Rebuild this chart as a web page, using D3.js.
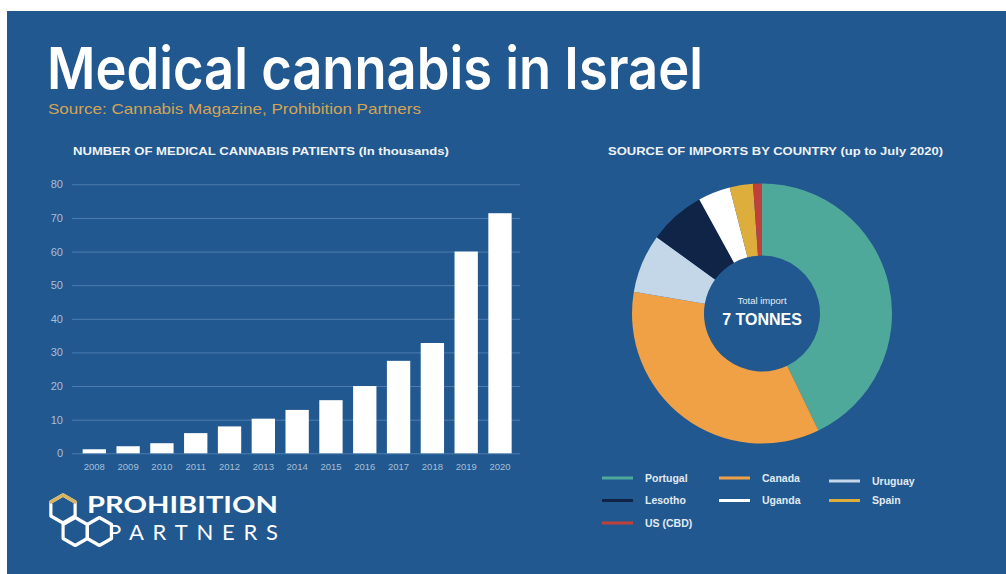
<!DOCTYPE html>
<html>
<head>
<meta charset="utf-8">
<script src="https://cdn.jsdelivr.net/npm/d3@7"></script>
<style>
  html, body { margin: 0; padding: 0; background: #ffffff; }
  svg { display: block; }
</style>
</head>
<body>
<svg id="chart" width="1006" height="574"></svg>
<script>
// ---------- DATA ----------
const years = ["2008","2009","2010","2011","2012","2013","2014","2015","2016","2017","2018","2019","2020"];
const patients = [1.2, 2.1, 3.0, 6.0, 8.0, 10.3, 12.9, 15.8, 20.0, 27.5, 32.8, 60.0, 71.4];
const yTicks = [0, 10, 20, 30, 40, 50, 60, 70, 80];

const countries = ["Portugal", "Canada", "Uruguay", "Lesotho", "Uganda", "Spain", "US (CBD)"];
const importShares = [42.8, 34.8, 7.3, 7.0, 4.0, 2.9, 1.1];
const countryColors = ["#4fa99b", "#f0a045", "#c3d7e8", "#0f2446", "#ffffff", "#deae3c", "#c0413c"];

const titleText = "Medical cannabis in Israel";
const sourceText = "Source: Cannabis Magazine, Prohibition Partners";
const barTitle = "NUMBER OF MEDICAL CANNABIS PATIENTS (In thousands)";
const pieTitle = "SOURCE OF IMPORTS BY COUNTRY (up to July 2020)";
const centerLabel = "Total import";
const centerValue = "7 TONNES";

// ---------- SETUP ----------
const svg = d3.select("#chart");
const BG = "#20588f";
const FONT = "'Liberation Sans', Arial, sans-serif";

svg.append("rect").attr("x", 7).attr("y", 11).attr("width", 999).attr("height", 563).attr("fill", BG);

// Title
svg.append("text")
  .attr("x", 47).attr("y", 89)
  .attr("font-family", "Inter, 'Liberation Sans', sans-serif")
  .attr("font-weight", 600)
  .attr("font-size", 58)
  .attr("fill", "#ffffff")
  .attr("textLength", 656)
  .attr("lengthAdjust", "spacingAndGlyphs")
  .text(titleText);

svg.append("text")
  .attr("x", 48).attr("y", 114)
  .attr("font-family", FONT)
  .attr("font-size", 14.5)
  .attr("fill", "#d3a457")
  .attr("textLength", 373)
  .attr("lengthAdjust", "spacingAndGlyphs")
  .text(sourceText);

// Section titles
svg.append("text")
  .attr("x", 73).attr("y", 154.5)
  .attr("font-family", FONT).attr("font-weight", "bold").attr("font-size", 10)
  .attr("fill", "#eef2f7")
  .attr("textLength", 376).attr("lengthAdjust", "spacingAndGlyphs")
  .text(barTitle);

svg.append("text")
  .attr("x", 608).attr("y", 154.5)
  .attr("font-family", FONT).attr("font-weight", "bold").attr("font-size", 10)
  .attr("fill", "#eef2f7")
  .attr("textLength", 335).attr("lengthAdjust", "spacingAndGlyphs")
  .text(pieTitle);

// ---------- BAR CHART ----------
const y = d3.scaleLinear().domain([0, 80]).range([453.3, 184.3]);
const x = d3.scaleBand().domain(years).range([77.4, 516.9]).paddingInner(0.31).paddingOuter(0.155);

const yAxis = svg.append("g")
  .attr("transform", "translate(520,0)")
  .call(d3.axisLeft(y).tickValues(yTicks).tickSize(448).tickPadding(9).tickFormat(d3.format("d")));
yAxis.select(".domain").remove();
yAxis.selectAll(".tick line").attr("stroke", "#4f7eb0").attr("stroke-width", 1);
yAxis.selectAll(".tick text")
  .attr("font-family", FONT).attr("font-size", 11).attr("fill", "#a9bfd8");

svg.append("g").selectAll("rect")
  .data(patients)
  .join("rect")
  .attr("x", (d, i) => x(years[i]))
  .attr("width", x.bandwidth())
  .attr("y", d => y(d))
  .attr("height", d => y(0) - y(d))
  .attr("fill", "#ffffff");

const xAxis = svg.append("g")
  .attr("transform", "translate(0,453.3)")
  .call(d3.axisBottom(x).tickSize(0).tickPadding(9.5));
xAxis.select(".domain").remove();
xAxis.selectAll(".tick text")
  .attr("font-family", FONT).attr("font-size", 9.5).attr("fill", "#a9bfd8");

// ---------- DONUT ----------
const cx = 762, cy = 313.5;
const pie = d3.pie().sort(null).value(d => d);
const arc = d3.arc().innerRadius(58).outerRadius(130);
const donut = svg.append("g").attr("transform", `translate(${cx},${cy})`);
donut.selectAll("path")
  .data(pie(importShares))
  .join("path")
  .attr("d", arc)
  .attr("fill", (d, i) => countryColors[i]);

donut.append("text")
  .attr("y", -9.5).attr("text-anchor", "middle")
  .attr("font-family", FONT).attr("font-size", 9.5).attr("fill", "#e6edf5")
  .text(centerLabel);
donut.append("text")
  .attr("y", 11.5).attr("text-anchor", "middle")
  .attr("font-family", FONT).attr("font-weight", "bold").attr("font-size", 16).attr("fill", "#ffffff")
  .text(centerValue);

// ---------- LEGEND ----------
const legColX = [602, 719, 829];
const legend = svg.append("g");
const items = legend.selectAll("g")
  .data(countries)
  .join("g")
  .attr("transform", (d, i) => `translate(${legColX[i % 3]},${478 + Math.floor(i / 3) * 22.5 + (i === 2 ? 3 : 0)})`);
items.append("line")
  .attr("x1", 0).attr("x2", 31).attr("y1", 0).attr("y2", 0)
  .attr("stroke", (d, i) => countryColors[i]).attr("stroke-width", 3);
items.append("text")
  .attr("x", 43).attr("y", 3.5)
  .attr("font-family", FONT).attr("font-weight", "bold").attr("font-size", 10.5)
  .attr("fill", "#e2eaf2")
  .text(d => d);

// ---------- LOGO ----------
const logo = svg.append("g");
const R = 14;
function hexPts(hx, hy) {
  return d3.range(6).map(k => {
    const a = Math.PI / 180 * (60 * k - 90);
    return [hx + R * Math.cos(a), hy + R * Math.sin(a)];
  });
}
const hexCenters = [[63, 509], [75.2, 531.5], [99.4, 531.5]];
hexCenters.forEach(c => {
  logo.append("path")
    .attr("d", d3.line()(hexPts(c[0], c[1])) + "Z")
    .attr("fill", "none").attr("stroke", "#ffffff").attr("stroke-width", 3.2)
    .attr("stroke-linejoin", "round");
});
// gold accent on top of the first hexagon
const tp = hexPts(hexCenters[0][0], hexCenters[0][1]);
logo.append("path")
  .attr("d", d3.line()([tp[5], tp[0], tp[1]]))
  .attr("fill", "none").attr("stroke", "#d9b55e").attr("stroke-width", 3.4)
  .attr("stroke-linejoin", "round").attr("stroke-linecap", "round");

logo.append("text")
  .attr("x", 87).attr("y", 513)
  .attr("font-family", "Lato, 'Liberation Sans', sans-serif").attr("font-weight", "bold").attr("font-size", 22)
  .attr("fill", "#ffffff")
  .attr("textLength", 191).attr("lengthAdjust", "spacingAndGlyphs")
  .text("PROHIBITION");
logo.append("text")
  .attr("x", 108).attr("y", 540)
  .attr("font-family", "Lato, 'Liberation Sans', sans-serif").attr("font-weight", 400).attr("font-size", 22)
  .attr("fill", "#ffffff")
  .attr("textLength", 170).attr("lengthAdjust", "spacing")
  .text("PARTNERS");
</script>
</body>
</html>
